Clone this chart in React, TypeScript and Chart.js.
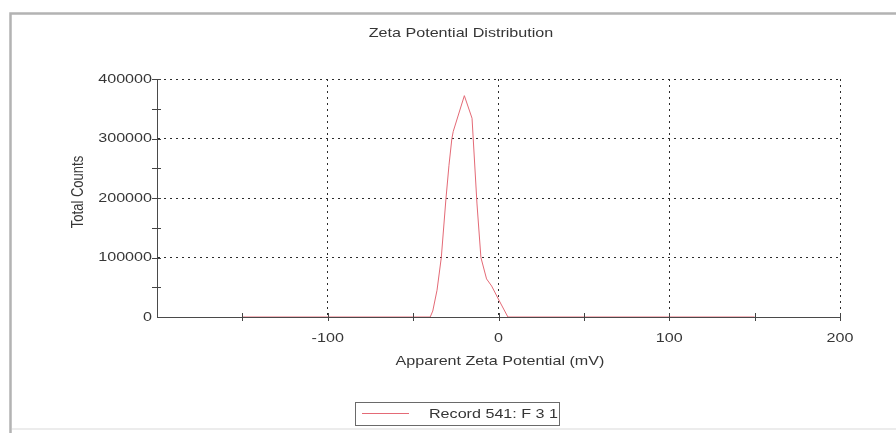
import React, { useEffect, useRef } from "react";
import { Chart, registerables } from "chart.js";

Chart.register(...registerables);

// Texts
const chartTitle = "Zeta Potential Distribution";
const xAxisTitle = "Apparent Zeta Potential (mV)";
const yAxisTitle = "Total Counts";
const seriesLabel = "Record 541: F 3 1";

// Distribution samples: apparent zeta potential (mV) and total counts
const zetaMv = [-150, -40, -38.5, -36, -33.5, -30.8, -29, -27.3, -26.5, -20, -15.5, -12.6, -10.3, -7, -4, 0.5, 5.5, 150];
const totalCounts = [0, 0, 10000, 45000, 100000, 198000, 255000, 300000, 312000, 372000, 334000, 190000, 100000, 64000, 52000, 27000, 0, 0];

// Axis ranges and tick spacing
const xRange = [-200, 200];
const yRange = [0, 400000];
const xMinorStep = 50;
const xMajorStep = 100;
const yMinorStep = 50000;
const yMajorStep = 100000;

const LINE_COLOR = "#e46a76";
const INK = "#363636";
const FONT = '13px "Liberation Sans", Arial, sans-serif';
const STRETCH = 1.24;

function wideText(
  ctx: CanvasRenderingContext2D,
  text: string,
  x: number,
  y: number,
  align: CanvasTextAlign,
  rotate = 0
) {
  ctx.save();
  ctx.translate(x, y);
  ctx.scale(STRETCH, 1);
  if (rotate) ctx.rotate(rotate);
  ctx.font = FONT;
  ctx.fillStyle = INK;
  ctx.textAlign = align;
  ctx.textBaseline = "middle";
  ctx.fillText(text, 0, 0);
  ctx.restore();
}

const isMajor = (v: number, step: number) => Math.abs(v / step - Math.round(v / step)) < 1e-9;

const framePlugin = {
  id: "frameAndText",
  beforeDraw(chart: any) {
    const ctx: CanvasRenderingContext2D = chart.ctx;
    ctx.save();
    ctx.fillStyle = "#ffffff";
    ctx.fillRect(0, 0, chart.width, chart.height);
    // outer panel frame
    ctx.strokeStyle = "#b3b3b3";
    ctx.lineWidth = 2.5;
    ctx.beginPath();
    ctx.moveTo(10.5, chart.height);
    ctx.lineTo(10.5, 13.5);
    ctx.lineTo(chart.width, 13.5);
    ctx.stroke();
    ctx.strokeStyle = "#ececec";
    ctx.lineWidth = 2;
    ctx.beginPath();
    ctx.moveTo(12, 429);
    ctx.lineTo(chart.width, 429);
    ctx.stroke();
    ctx.restore();
  },
  afterDraw(chart: any) {
    const ctx: CanvasRenderingContext2D = chart.ctx;
    const xs = chart.scales.x;
    const ys = chart.scales.y;
    const area = chart.chartArea;

    // tick marks crossing the axes
    ctx.save();
    ctx.strokeStyle = "#444";
    ctx.lineWidth = 1;
    ctx.beginPath();
    xs.ticks.forEach((t: any) => {
      if (t.value === xs.min) return;
      const px = Math.round(xs.getPixelForValue(t.value)) + 0.5;
      ctx.moveTo(px, area.bottom - 4);
      ctx.lineTo(px, area.bottom + 4);
    });
    ys.ticks.forEach((t: any) => {
      if (t.value === ys.min) return;
      const py = Math.round(ys.getPixelForValue(t.value)) + 0.5;
      ctx.moveTo(area.left - 5, py);
      ctx.lineTo(area.left + 4, py);
    });
    ctx.stroke();
    ctx.restore();

    // tick labels
    xs.ticks.forEach((t: any) => {
      if (t.value === xs.min || !isMajor(t.value, xMajorStep)) return;
      wideText(ctx, String(t.value), xs.getPixelForValue(t.value), 338, "center");
    });
    ys.ticks.forEach((t: any) => {
      if (!isMajor(t.value, yMajorStep)) return;
      wideText(ctx, String(t.value), area.left - 5, ys.getPixelForValue(t.value), "right");
    });

    // titles
    wideText(ctx, chartTitle, 461, 33, "center");
    wideText(ctx, xAxisTitle, 500, 361, "center");
    wideText(ctx, yAxisTitle, 79, 192, "center", -Math.PI / 2);

    // legend box
    ctx.save();
    ctx.strokeStyle = "#6a6a6a";
    ctx.lineWidth = 1;
    ctx.strokeRect(355.5, 402.5, 204, 23);
    ctx.strokeStyle = LINE_COLOR;
    ctx.beginPath();
    ctx.moveTo(362, 413.5);
    ctx.lineTo(409, 413.5);
    ctx.stroke();
    ctx.restore();
    wideText(ctx, seriesLabel, 558, 414, "right");
  },
};

export default function App() {
  const canvasRef = useRef<HTMLCanvasElement | null>(null);

  useEffect(() => {
    if (!canvasRef.current) return;
    const points = zetaMv.map((x, i) => ({ x, y: totalCounts[i] }));

    const gridColor = (step: number, min: number) => (ctx: any) => {
      const v = ctx.tick ? ctx.tick.value : NaN;
      if (v === min || !isMajor(v, step)) return "rgba(0,0,0,0)";
      return "#2c2c2c";
    };

    const chart = new Chart(canvasRef.current, {
      type: "scatter",
      data: {
        datasets: [
          {
            label: seriesLabel,
            data: points,
            showLine: true,
            borderColor: LINE_COLOR,
            backgroundColor: LINE_COLOR,
            borderWidth: 1,
            pointRadius: 0,
            pointHoverRadius: 0,
            tension: 0,
          },
        ],
      },
      options: {
        responsive: false,
        animation: false,
        events: [],
        layout: { padding: { left: 157, top: 79, right: 56, bottom: 116 } },
        plugins: {
          legend: { display: false },
          title: { display: false },
          tooltip: { enabled: false },
        },
        scales: {
          x: {
            type: "linear",
            min: xRange[0],
            max: xRange[1],
            ticks: { display: false, stepSize: xMinorStep },
            grid: { color: gridColor(xMajorStep, xRange[0]), lineWidth: 1, drawTicks: false },
            border: { display: true, color: "#4a4a4a", width: 1, dash: [2, 4] },
            afterFit: (s: any) => {
              s.height = 0;
            },
          },
          y: {
            type: "linear",
            min: yRange[0],
            max: yRange[1],
            ticks: { display: false, stepSize: yMinorStep },
            grid: { color: gridColor(yMajorStep, yRange[0]), lineWidth: 1, drawTicks: false },
            border: { display: true, color: "#4a4a4a", width: 1, dash: [2, 4] },
            afterFit: (s: any) => {
              s.width = 0;
            },
          },
        },
      },
      plugins: [framePlugin],
    } as any);

    return () => chart.destroy();
  }, []);

  return (
    <div style={{ position: "fixed", left: 0, top: 0, width: 896, height: 433, background: "#fff" }}>
      <canvas ref={canvasRef} width={896} height={433} style={{ display: "block" }} />
    </div>
  );
}
